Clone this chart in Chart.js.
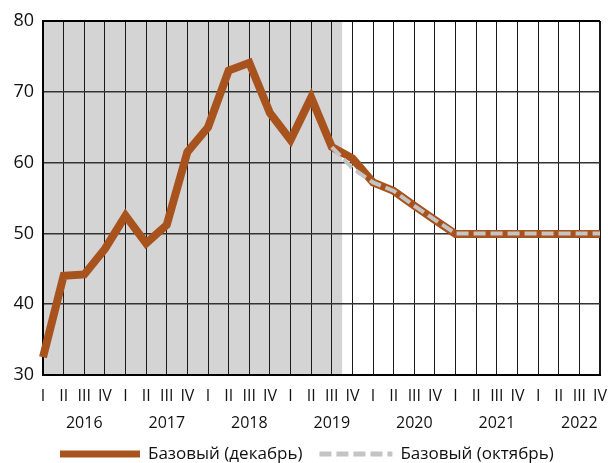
<!DOCTYPE html>
<html>
<head>
<meta charset="utf-8">
<script src="https://cdn.jsdelivr.net/npm/chart.js@4.4.0/dist/chart.umd.min.js"></script>
<style>
  html, body { margin: 0; padding: 0; background: #fff; }
  #wrap { width: 608px; height: 463px; }
</style>
</head>
<body>
<div id="wrap"><canvas id="chart" width="608" height="463"></canvas></div>
<script>
var years = ['2016', '2017', '2018', '2019', '2020', '2021', '2022'];
var quarters = ['I', 'II', 'III', 'IV'];

// базовый сценарий, декабрь
var baseDec = [32.5, 44.0, 44.2, 47.8, 52.5, 48.6, 51.2, 61.5,
               65.0, 73.0, 74.1, 67.0, 63.2, 69.2, 62.2, 60.6,
               57.2, 56.0, 53.9, 51.9, 49.9, 49.9, 49.9, 49.9,
               49.9, 49.9, 49.9, 49.9];
// базовый сценарий, октябрь (виден только с 2019 III)
var baseOct = [null, null, null, null, null, null, null, null,
               null, null, null, null, null, null, 62.2, 59.2,
               57.2, 56.0, 53.9, 51.9, 50.0, 50.0, 50.0, 50.0,
               50.0, 50.0, 50.0, 50.0];

var yTicks = [30, 40, 50, 60, 70, 80];
var factEnd = 14.5; // граница закрашенной области (факт)

var labels = [];
years.forEach(function (y) {
    quarters.forEach(function (q) {
        labels.push([q, q === 'III' ? y : '']);
    });
});

var font = '"Open Sans", "DejaVu Sans", sans-serif';

var shadePlugin = {
    id: 'shade',
    beforeDraw: function (chart) {
        var a = chart.chartArea;
        var x = chart.scales.x.getPixelForValue(factEnd);
        var ctx = chart.ctx;
        ctx.save();
        ctx.fillStyle = '#d4d4d4';
        ctx.fillRect(a.left, a.top, x - a.left, a.bottom - a.top);
        ctx.restore();
    }
};

var legendPlugin = {
    id: 'bottomLegend',
    afterDraw: function (chart) {
        var ctx = chart.ctx;
        var x = 60, y = 454;
        var lens = [80, 73];
        ctx.save();
        ctx.font = '17px ' + font;
        ctx.textBaseline = 'middle';
        ctx.fillStyle = '#111';
        chart.data.datasets.forEach(function (ds, i) {
            ctx.beginPath();
            ctx.strokeStyle = ds.borderColor;
            ctx.lineWidth = i === 0 ? 7 : 5;
            ctx.setLineDash(ds.borderDash || []);
            ctx.moveTo(x, y);
            ctx.lineTo(x + lens[i], y);
            ctx.stroke();
            ctx.setLineDash([]);
            x += lens[i] + 8;
            ctx.fillText(ds.label, x, y);
            x += ctx.measureText(ds.label).width + 17;
        });
        ctx.restore();
    }
};

var ctx = document.getElementById('chart').getContext('2d');
var chart = new Chart(ctx, {
    type: 'line',
    data: {
        labels: labels,
        datasets: [{
            label: 'Базовый (декабрь)',
            data: baseDec,
            borderColor: '#a8531d',
            borderWidth: 8,
            pointRadius: 0,
            tension: 0,
            borderJoinStyle: 'miter',
            order: 1
        }, {
            label: 'Базовый (октябрь)',
            data: baseOct,
            borderColor: '#c4c4c4',
            borderWidth: 4,
            borderDash: [12, 5],
            pointRadius: 0,
            tension: 0,
            order: 0
        }]
    },
    options: {
        responsive: false,
        animation: false,
        devicePixelRatio: 1,
        layout: { padding: { top: 21, right: 8, left: 0, bottom: 0 } },
        plugins: {
            legend: { display: false },
            tooltip: { enabled: false }
        },
        scales: {
            x: {
                offset: false,
                afterFit: function (s) {
                    s.height = 88;
                    s.paddingLeft = 0;
                    s.paddingRight = 0;
                },
                grid: {
                    color: '#1a1a1a',
                    lineWidth: function (c) { return c.index === labels.length - 1 ? 2 : 1; },
                    drawTicks: false
                },
                border: { color: '#000', width: 2 },
                ticks: {
                    autoSkip: false,
                    maxRotation: 0,
                    padding: 8,
                    color: '#111',
                    font: { family: font, size: 16, lineHeight: 1.7 }
                }
            },
            y: {
                min: 30,
                max: 80,
                afterFit: function (s) { s.width = 43; },
                afterBuildTicks: function (s) {
                    s.ticks = yTicks.map(function (v) { return { value: v }; });
                },
                grid: {
                    color: function (c) { return c.tick.value === 80 ? '#000' : '#333'; },
                    lineWidth: function (c) { return c.tick.value === 80 ? 2 : 1.5; },
                    drawTicks: false
                },
                border: { color: '#000', width: 2 },
                ticks: {
                    padding: 9,
                    color: '#111',
                    font: { family: font, size: 18 }
                }
            }
        }
    },
    plugins: [shadePlugin, legendPlugin]
});
</script>
</body>
</html>
